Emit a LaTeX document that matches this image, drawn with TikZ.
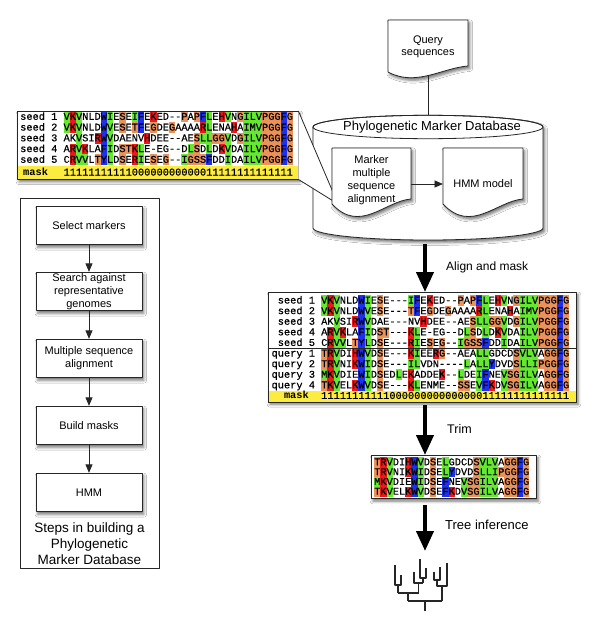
\documentclass[tikz,border=0pt]{standalone}
\usepackage{fontspec}
\setmainfont{Liberation Sans}
\newfontfamily\seqfont{Liberation Mono}[FakeBold=0.5]
\newfontfamily\seqbold{Liberation Mono Bold}
\usetikzlibrary{arrows.meta,shadows.blur}
\definecolor{alg}{RGB}{100,232,50}
\definecolor{alr}{RGB}{235,25,28}
\definecolor{alb}{RGB}{30,48,235}
\definecolor{alo}{RGB}{234,146,90}
\definecolor{mskY}{RGB}{252,236,64}
\newlength\seqcw \setlength\seqcw{6.2pt}
\def\seqbandh{10.75pt}\def\seqbandlo{-2.4pt}
\def\rescell#1#2{\ifx\relax#1\relax\else\rlap{\color{#1}\rule[\seqbandlo]{\seqcw}{\seqbandh}}\fi\makebox[\seqcw]{#2}}
\def\defres#1#2#3{\expandafter\def\csname rs@#1\endcsname{\rescell{#2}{#3}}}
\defres{V}{alg}{V}\defres{I}{alg}{I}\defres{L}{alg}{L}\defres{M}{alg}{M}
\defres{K}{alr}{K}\defres{R}{alr}{R}\defres{H}{alr}{H}
\defres{W}{alb}{W}\defres{F}{alb}{F}\defres{Y}{alb}{Y}
\defres{G}{alo}{G}\defres{P}{alo}{P}\defres{S}{alo}{S}\defres{T}{alo}{T}
\defres{A}{}{A}\defres{C}{}{C}\defres{D}{}{D}\defres{E}{}{E}\defres{N}{}{N}\defres{Q}{}{Q}
\defres{l}{}{L}\defres{k}{}{K}\defres{s}{}{S}\defres{i}{}{I}\defres{v}{}{V}\defres{g}{}{G}\defres{m}{}{M}
\defres{-}{}{-}
\def\seqrow#1{\seqloop#1\relax}
\def\seqloop#1{\ifx#1\relax\else\csname rs@#1\endcsname\expandafter\seqloop\fi}
\begin{document}
\begin{tikzpicture}[x=1pt,y=-1pt,line join=round,
  ln/.style={draw=black!85,line width=0.8pt},
  shad/.style={blur shadow={shadow xshift=1.8pt,shadow yshift=-2.6pt,shadow blur radius=2.8pt,shadow opacity=55}},
  fbox/.style={ln,fill=white,shad,minimum width=106pt,minimum height=38.5pt,inner sep=0pt,align=center,font=\fontsize{11}{13}\selectfont},
  farrow/.style={ln,-{Triangle[width=7pt,length=8.5pt]}},
  bigarrow/.style={draw=black,line width=4pt,-{Triangle[width=17pt,length=20pt]}},
  seqtxt/.style={inner sep=0pt,anchor=base west,font=\seqfont\fontsize{10.33}{12}\selectfont},
  maskbold/.style={inner sep=0pt,anchor=base west,font=\seqbold\fontsize{10.33}{12}\selectfont},
  lbl/.style={inner sep=0pt,anchor=west,font=\fontsize{12.5}{14}\selectfont},
  doctxt/.style={inner sep=0pt,align=center,font=\fontsize{11}{13}\selectfont},
  tree/.style={draw=black!85,line width=1.3pt}]
\useasboundingbox (0,0) rectangle (600,621);
\fill[white] (0,0) rectangle (600,621);

% ---------- flowchart ----------
\node[draw=black!85,line width=0.8pt,minimum width=139pt,minimum height=370pt,inner sep=0pt,anchor=north west] (steps) at (20,198) {};
\node[fbox] (s1) at (89,225.5) {Select markers};
\node[fbox] (s2) at (89,291.5) {Search against\\representative\\genomes};
\node[fbox] (s3) at (89,358.5) {Multiple sequence\\alignment};
\node[fbox] (s4) at (89,425.5) {Build masks};
\node[fbox] (s5) at (89,492.5) {HMM};
\draw[farrow] (s1) -- (s2);
\draw[farrow] (s2) -- (s3);
\draw[farrow] (s3) -- (s4);
\draw[farrow] (s4) -- (s5);
\node[align=center,inner sep=0pt,font=\fontsize{13.5}{16}\selectfont] (stitle) at (89.5,544) {Steps in building a\\Phylogenetic\\Marker Database};

% ---------- top-left seed alignment ----------
\node[fill=white,shad,minimum width=281pt,minimum height=68pt,inner sep=0pt,anchor=north west] (tlbox) at (17,111) {};
\fill[mskY] (17,166.2) rectangle (298,179);
\def\seqbandh{10.75pt}\def\seqbandlo{-2.4pt}
\node[seqtxt] (tll1) at (20,119.8) {seed 1};
\node[seqtxt] (tll2) at (20,130.55) {seed 2};
\node[seqtxt] (tll3) at (20,141.3) {seed 3};
\node[seqtxt] (tll4) at (20,152.05) {seed 4};
\node[seqtxt] (tll5) at (20,162.8) {seed 5};
\node[seqtxt] (tls1) at (63.4,119.8) {\seqrow{VKVNlDWIESEIFEKED--PAPFLEHVNGILVPGGFG}};
\node[seqtxt] (tls2) at (63.4,130.55) {\seqrow{VKVNlDWVESETFEGDEGAAAARLENAHAIMVPGGFG}};
\node[seqtxt] (tls3) at (63.4,141.3) {\seqrow{AkVsiRWVDAENvHDEE--AESLLGGVDGILVPGGFG}};
\node[seqtxt] (tls4) at (63.4,152.05) {\seqrow{ARVKlAFIDSTKLE-Eg--DLSDLDKVDAILVPGGFG}};
\node[seqtxt] (tls5) at (63.4,162.8) {\seqrow{CRVVlTYLDSERIESEG--IGSSFDDIDAILVPGGFG}};
\node[maskbold] (tlml) at (23,175.5) {mask};
\node[seqtxt] (tlms) at (63.4,175.5) {1111111111100000000000011111111111111};
\draw[ln] (tlbox.north west) rectangle (tlbox.south east);

% ---------- query document ----------
\path[ln,fill=white,shad] (388,20) -- (468,20) -- (468,66) .. controls (442,68) and (416,87) .. (388,72) -- cycle;
\node[doctxt,font=\fontsize{11}{12.5}\selectfont] (qtext) at (428,47) {Query\\sequences};

% ---------- database cylinder ----------
\path[ln,fill=white,shad] (313,127) -- (313,228) arc[start angle=180,end angle=0,x radius=115,y radius=12] -- (543,127) arc[start angle=0,end angle=-180,x radius=115,y radius=11.7] -- cycle;
\draw[ln] (428,127) ellipse [x radius=115,y radius=11.7];
\node[inner sep=0pt,font=\fontsize{13}{15}\selectfont] (dbname) at (432,127) {Phylogenetic Marker Database};
\coordinate (qbot) at (428,75.2);
\coordinate (cyltop) at (428,115.3);
\draw[ln] (qbot) -- (cyltop);

% ---------- callout tail ----------
\coordinate (ctip) at (338,204);
\fill[white] (tlbox.north east) -- (ctip) -- (tlbox.south east) -- cycle;
\draw[ln] (tlbox.north east) -- (ctip) -- (tlbox.south east);

% ---------- documents inside database ----------
\path[ln,fill=white,shad] (332,148) -- (411,148) -- (411,199) .. controls (385,201) and (360,234) .. (332,204) -- cycle;
\node[doctxt] (mtext) at (371.5,180) {Marker\\multiple\\sequence\\alignment};
\path[ln,fill=white,shad] (443,148) -- (523,148) -- (523,199) .. controls (497,201) and (471,234) .. (443,204) -- cycle;
\node[doctxt] (htext) at (483,183.5) {HMM model};
\coordinate (mdr) at (411,184);
\coordinate (hdl) at (443,184);
\draw[farrow] (mdr) -- (hdl);

% ---------- middle alignment ----------
\node[fill=white,shad,minimum width=308pt,minimum height=109.5pt,inner sep=0pt,anchor=north west] (midbox) at (268,292) {};
\fill[mskY] (268,390.6) rectangle (576,401.5);
\def\seqbandh{10.6pt}\def\seqbandlo{-2.35pt}
\node[seqtxt] (mdl1) at (277.6,303.5) {seed 1};
\node[seqtxt] (mdl2) at (277.6,314.1) {seed 2};
\node[seqtxt] (mdl3) at (277.6,324.7) {seed 3};
\node[seqtxt] (mdl4) at (277.6,335.3) {seed 4};
\node[seqtxt] (mdl5) at (277.6,345.9) {seed 5};
\node[seqtxt] (mdl6) at (271.4,356.5) {query 1};
\node[seqtxt] (mdl7) at (271.4,367.1) {query 2};
\node[seqtxt] (mdl8) at (271.4,377.7) {query 3};
\node[seqtxt] (mdl9) at (271.4,388.3) {query 4};
\node[seqtxt] (mds1) at (321,303.5) {\seqrow{VKVNlDWIESE---IFEKED--PAPFLEHVNGILVPGGFG}};
\node[seqtxt] (mds2) at (321,314.1) {\seqrow{VKVNlDWVESE---TFEGDEGAAAARLENAHAIMVPGGFG}};
\node[seqtxt] (mds3) at (321,324.7) {\seqrow{AkVsiRWVDAE---NvHDEE--AESLLGGVDGILVPGGFG}};
\node[seqtxt] (mds4) at (321,335.3) {\seqrow{ARVKlAFIDST---KLE-Eg--DLSDLDKVDAILVPGGFG}};
\node[seqtxt] (mds5) at (321,345.9) {\seqrow{CRVVlTYLDSE---RIESEG--IGSSFDDIDAILVPGGFG}};
\node[seqtxt] (mds6) at (321,356.5) {\seqrow{TRVDiHWVDSE---KIEERG--AEALLgDCDSVLVAGGFG}};
\node[seqtxt] (mds7) at (321,367.1) {\seqrow{TRVNiKWIDSE---ILvDN----LALLYDvDSLLIPGGFG}};
\node[seqtxt] (mds8) at (321,377.7) {\seqrow{MKVDiEWIDSEDLEKADDEK--LDEIFNEVSGILVAGGFG}};
\node[seqtxt] (mds9) at (321,388.3) {\seqrow{TKVElKWVDSE---KLENmE--SSEVFKDVSGILVAGGFG}};
\node[maskbold] (mdml) at (283.8,398.9) {mask};
\node[seqtxt] (mdms) at (321,398.9) {1111111111100000000000000011111111111111};
\draw[draw=black!85,line width=0.6pt] (268,348.2) -- (576,348.2);
\draw[ln] (midbox.north west) rectangle (midbox.south east);

% ---------- trimmed alignment ----------
\node[fill=white,shad,minimum width=165pt,minimum height=43.3pt,inner sep=0pt,anchor=north west] (trimbox) at (371,455) {};
\def\seqbandh{9.8pt}\def\seqbandlo{-1.95pt}
\node[seqtxt] (trs1) at (374,465.3) {\seqrow{TRVDiHWVDSELgDCDSVLVAGGFG}};
\node[seqtxt] (trs2) at (374,475.1) {\seqrow{TRVNiKWIDSELYDvDSLLIPGGFG}};
\node[seqtxt] (trs3) at (374,484.9) {\seqrow{MKVDiEWIDSEFNEVSGILVAGGFG}};
\node[seqtxt] (trs4) at (374,494.7) {\seqrow{TKVElKWVDSEFKDVSGILVAGGFG}};
\draw[ln] (trimbox.north west) rectangle (trimbox.south east);

% ---------- thick arrows ----------
\coordinate (am1) at (425,243.5);
\draw[bigarrow] (am1) -- (am1 |- midbox.north);
\node[lbl,font=\fontsize{12}{14}\selectfont] (lalign) at (446,267) {Align and mask};
\coordinate (tr1) at (425,405);
\draw[bigarrow] (tr1) -- (tr1 |- trimbox.north);
\node[lbl] (ltrim) at (447,429) {Trim};
\coordinate (ti1) at (425,505);
\coordinate (ti2) at (425,551);
\draw[bigarrow] (ti1) -- (ti2);
\node[lbl,font=\fontsize{13}{15}\selectfont] (ltree) at (445,525) {Tree inference};

% ---------- tree ----------
\draw[tree] (395,565) |- (401,585) -- (401,575);
\draw[tree] (398,585) -- (398,593);
\draw[tree] (420,559) |- (426,578) -- (426,568);
\draw[tree] (423,578) -- (423,583);
\draw[tree] (414,572) |- (423,583);
\draw[tree] (418.5,583) -- (418.5,593);
\draw[tree] (398,593) -- (418.5,593);
\draw[tree] (408,593) -- (408,601);
\draw[tree] (434,572) |- (440,580) -- (440,567);
\draw[tree] (437,580) -- (437,586) -- (447,586) -- (447,563);
\draw[tree] (442,586) -- (442,601);
\draw[tree] (408,601) -- (442,601);
\draw[tree] (425,601) -- (425,611);
\end{tikzpicture}
\end{document}
